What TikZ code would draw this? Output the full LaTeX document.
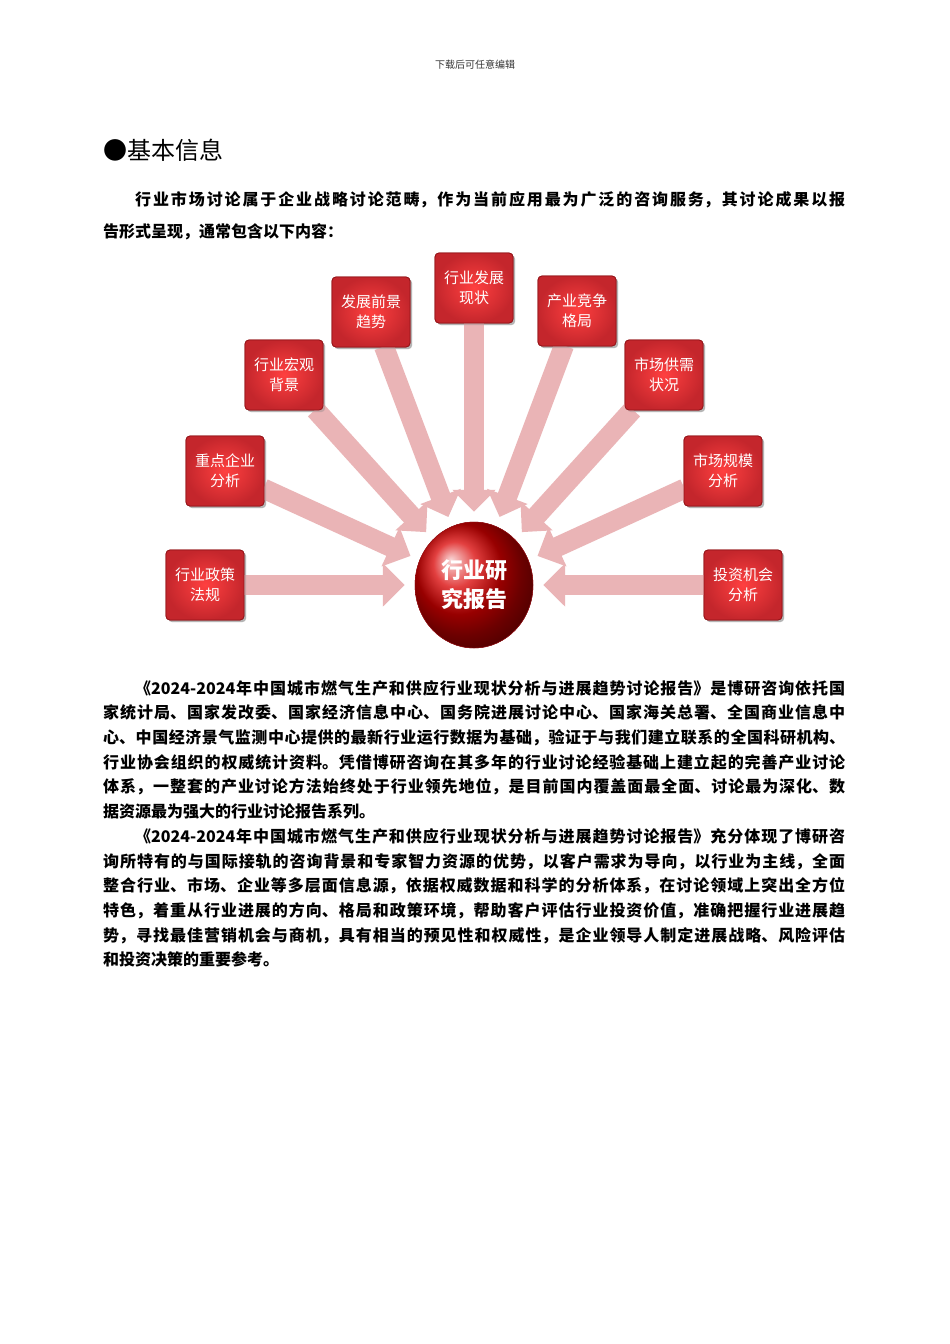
\documentclass[tikz,border=0pt]{standalone}
\usepackage{fontspec}
\newfontfamily\cjk{Noto Sans CJK SC}
\usetikzlibrary{arrows.meta,shadows,shapes.geometric}
\XeTeXlinebreaklocale "zh"
\XeTeXlinebreakskip=0pt plus 1pt
\definecolor{boxred}{RGB}{196,38,44}
\definecolor{boxdark}{RGB}{150,20,25}
\definecolor{arrowpink}{RGB}{234,180,182}
\tikzset{
  topic/.style={draw=boxdark, line width=0.8pt, rounded corners=4pt, inner color=red!75!white, outer color=boxred,
    minimum width=78pt, minimum height=70pt, align=center, text=white, font=\cjk\fontsize{15}{20}\selectfont, drop shadow={opacity=0.35}},
  hub/.style={ellipse, minimum width=118pt, minimum height=126pt, ball color=red!85!black, draw=boxdark, font=\cjk\bfseries\fontsize{22}{29}\selectfont, text=white, align=center},
  bigarrow/.style={line width=20pt, arrowpink, -{Triangle[width=42pt,length=22pt]}, shorten >=10pt, shorten <=-1pt},
  para/.style={anchor=north west, text width=742pt, align=justify, inner sep=0pt, font=\cjk\bfseries\fontsize{16}{24.7}\selectfont}
}
\begin{document}
\begin{tikzpicture}[x=1pt,y=-1pt]
\useasboundingbox[fill=white] (0,0) rectangle (950,1344);
\node[font=\cjk\fontsize{10}{12}\selectfont, text=black!80] (hdr) at (475,65) {下载后可任意编辑};
\node[anchor=west, inner sep=0pt, font=\cjk\fontsize{24}{28}\selectfont] (ttl) at (103,150) {●基本信息};
\node[para, font=\cjk\bfseries\fontsize{16}{32}\selectfont] (p1) at (103,191) {\hspace*{2em}行业市场讨论属于企业战略讨论范畴，作为当前应用最为广泛的咨询服务，其讨论成果以报\linebreak 告形式呈现，通常包含以下内容：};

\node[hub] (c) at (474,585) {行业研\\究报告};
\node[topic] (b1) at (205,585) {行业政策\\法规};
\node[topic] (b2) at (225,471) {重点企业\\分析};
\node[topic] (b3) at (284,375) {行业宏观\\背景};
\node[topic] (b4) at (371,312) {发展前景\\趋势};
\node[topic] (b5) at (474,288) {行业发展\\现状};
\node[topic] (b6) at (577,311) {产业竞争\\格局};
\node[topic] (b7) at (664,375) {市场供需\\状况};
\node[topic] (b8) at (723,471) {市场规模\\分析};
\node[topic] (b9) at (743,585) {投资机会\\分析};

\foreach \b in {b1,b2,b3,b4,b5,b6,b7,b8,b9}{\draw[bigarrow] (\b) -- (c);}
\node[topic] at (b1) {行业政策\\法规};
\node[topic] at (b2) {重点企业\\分析};
\node[topic] at (b3) {行业宏观\\背景};
\node[topic] at (b4) {发展前景\\趋势};
\node[topic] at (b5) {行业发展\\现状};
\node[topic] at (b6) {产业竞争\\格局};
\node[topic] at (b7) {市场供需\\状况};
\node[topic] at (b8) {市场规模\\分析};
\node[topic] at (b9) {投资机会\\分析};
\node[hub] at (c) {行业研\\究报告};

\node[para] (p2) at (103,680) {\hspace*{2em}《2024-2024年中国城市燃气生产和供应行业现状分析与进展趋势讨论报告》是博研咨询依托国\linebreak 家统计局、国家发改委、国家经济信息中心、国务院进展讨论中心、国家海关总署、全国商业信息中\linebreak 心、中国经济景气监测中心提供的最新行业运行数据为基础，验证于与我们建立联系的全国科研机构、\linebreak 行业协会组织的权威统计资料。凭借博研咨询在其多年的行业讨论经验基础上建立起的完善产业讨论\linebreak 体系，一整套的产业讨论方法始终处于行业领先地位，是目前国内覆盖面最全面、讨论最为深化、数\linebreak 据资源最为强大的行业讨论报告系列。\par
\hspace*{2em}《2024-2024年中国城市燃气生产和供应行业现状分析与进展趋势讨论报告》充分体现了博研咨\linebreak 询所特有的与国际接轨的咨询背景和专家智力资源的优势，以客户需求为导向，以行业为主线，全面\linebreak 整合行业、市场、企业等多层面信息源，依据权威数据和科学的分析体系，在讨论领域上突出全方位\linebreak 特色，着重从行业进展的方向、格局和政策环境，帮助客户评估行业投资价值，准确把握行业进展趋\linebreak 势，寻找最佳营销机会与商机，具有相当的预见性和权威性，是企业领导人制定进展战略、风险评估\linebreak 和投资决策的重要参考。};
\end{tikzpicture}
\end{document}
